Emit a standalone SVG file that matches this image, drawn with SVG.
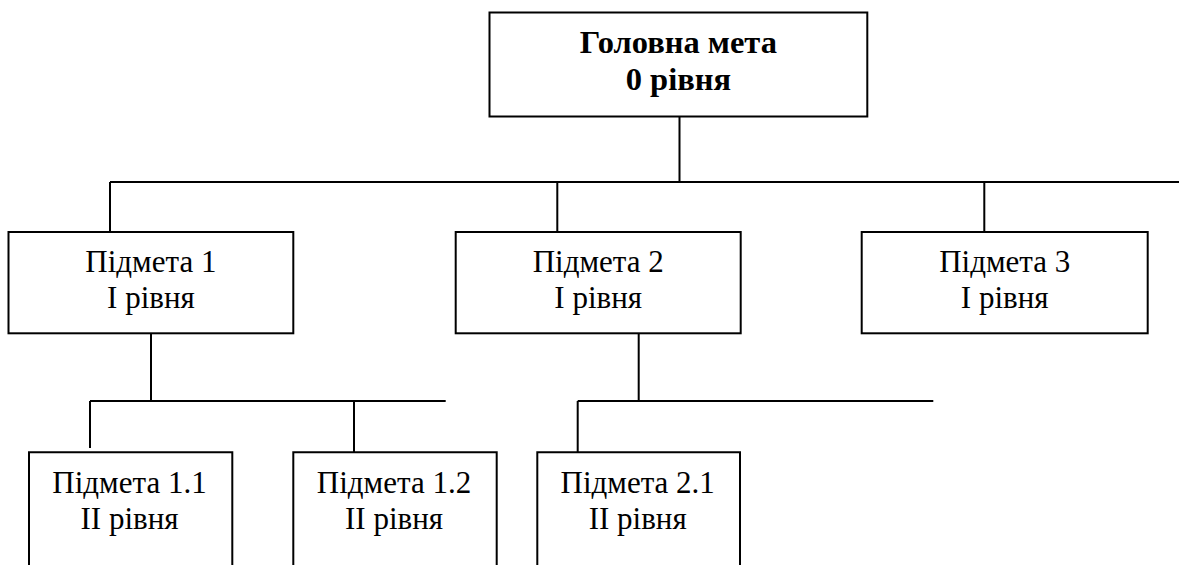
<svg xmlns="http://www.w3.org/2000/svg" width="1179" height="565" viewBox="0 0 1179 565">
<style>
.box{fill:#fff;stroke:#000;stroke-width:2}
.ln{fill:none;stroke:#000;stroke-width:2}
.t{font-family:'Liberation Serif','Times New Roman','DejaVu Serif',serif;font-size:31px;fill:#000;text-anchor:middle}
.b{font-weight:bold;font-size:32.5px}
</style>
<rect width="1179" height="565" fill="#fff"/>
<g id="connectors">
<path class="ln" d="M679.5 117V182M110 182H1179M110 182V232M557.3 182V232M984.3 182V232"/>
<path class="ln" d="M151 334V401M90 401H445.7M90 401V448M354 401V452"/>
<path class="ln" d="M638.7 334V401M577.7 401H933.3M577.7 401V452"/>
</g>
<g id="n0">
<rect class="box" x="489.5" y="12.5" width="377.8" height="104"/>
<text class="t b" x="678.4" y="53.3">Головна мета</text>
<text class="t b" x="678.4" y="90">0 рівня</text>
</g>
<g id="n1">
<rect class="box" x="8.5" y="232" width="284.8" height="101.3"/>
<text class="t" x="150.9" y="271.7">Підмета 1</text>
<text class="t" x="150.9" y="308.3">І рівня</text>
</g>
<g id="n2">
<rect class="box" x="455.7" y="232" width="285" height="101.3"/>
<text class="t" x="598.2" y="271.7">Підмета 2</text>
<text class="t" x="598.2" y="308.3">І рівня</text>
</g>
<g id="n3">
<rect class="box" x="861.7" y="232" width="286" height="101.3"/>
<text class="t" x="1004.7" y="271.7">Підмета 3</text>
<text class="t" x="1004.7" y="308.3">І рівня</text>
</g>
<g id="n11">
<path class="box" d="M29 566V452.3H232.3V566"/>
<text class="t" x="129.5" y="492.7">Підмета 1.1</text>
<text class="t" x="129.5" y="529.3">ІІ рівня</text>
</g>
<g id="n12">
<path class="box" d="M293.3 566V452.3H496.7V566"/>
<text class="t" x="394" y="492.7">Підмета 1.2</text>
<text class="t" x="394" y="529.3">ІІ рівня</text>
</g>
<g id="n21">
<path class="box" d="M537.3 566V452.3H740V566"/>
<text class="t" x="637.7" y="492.7">Підмета 2.1</text>
<text class="t" x="637.7" y="529.3">ІІ рівня</text>
</g>
</svg>
